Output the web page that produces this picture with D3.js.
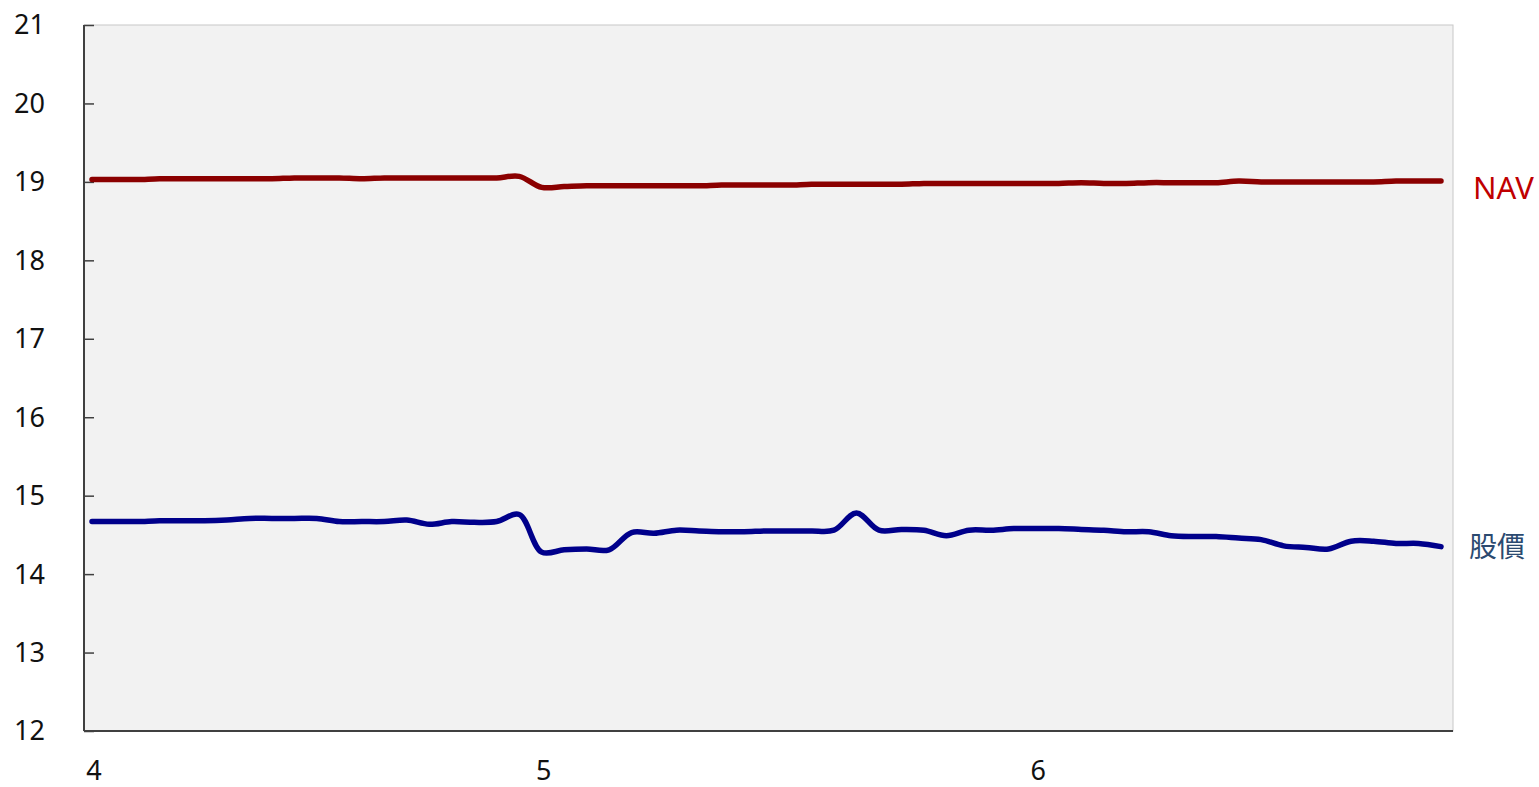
<!DOCTYPE html>
<html>
<head>
<meta charset="utf-8">
<script src="https://cdn.jsdelivr.net/npm/d3@7"></script>
<style>
  body { margin: 0; background: #fff; }
  svg { display: block; }
  .tick-label { font-family: 'Noto Sans', 'Open Sans', sans-serif; font-size: 27px; fill: #111; }
</style>
</head>
<body>
<div id="chart"></div>
<script>
// trading days, April - June; month labels at first trading day of each month
const monthLabels = ['4', '5', '6']
const monthStart = [0, 20, 42]
const yTicks = [12, 13, 14, 15, 16, 17, 18, 19, 20, 21]

const nav = [
  19.03, 19.03, 19.03, 19.04, 19.04, 19.04, 19.04, 19.04, 19.04, 19.05,
  19.05, 19.05, 19.04, 19.05, 19.05, 19.05, 19.05, 19.05, 19.05, 19.07,
  18.93, 18.94, 18.95, 18.95, 18.95, 18.95, 18.95, 18.95, 18.96, 18.96,
  18.96, 18.96, 18.97, 18.97, 18.97, 18.97, 18.97, 18.98, 18.98, 18.98,
  18.98, 18.98, 18.98, 18.98, 18.99, 18.98, 18.98, 18.99, 18.99, 18.99,
  18.99, 19.01, 19.00, 19.00, 19.00, 19.00, 19.00, 19.00, 19.01, 19.01,
  19.01
]

const price = [
  14.67, 14.67, 14.67, 14.68, 14.68, 14.68, 14.69, 14.71, 14.71, 14.71,
  14.71, 14.67, 14.67, 14.67, 14.69, 14.635, 14.67, 14.66, 14.67, 14.76,
  14.28, 14.31, 14.32, 14.31, 14.53, 14.52, 14.56, 14.55, 14.54, 14.54,
  14.55, 14.55, 14.55, 14.56, 14.78, 14.56, 14.57, 14.56, 14.49, 14.56,
  14.56, 14.58, 14.58, 14.58, 14.57, 14.56, 14.54, 14.54, 14.49, 14.48,
  14.48, 14.46, 14.44, 14.36, 14.34, 14.32, 14.42, 14.42, 14.39, 14.39,
  14.35
]

const series = [
  {name: 'NAV', values: nav, color: '#8b0000', labelColor: '#c00000', size: 31, dx: 20, dy: 7},
  {name: '股價', values: price, color: '#00008b', labelColor: '#2b4a70', size: 28, dx: 16, dy: 1}
]

const width = 1539
const height = 787
const margin = {top: 25, right: 86, bottom: 56, left: 84}
const plotW = width - margin.left - margin.right
const plotH = height - margin.top - margin.bottom

const x = d3.scaleLinear().domain([0, nav.length - 1]).range([8, plotW - 12])
const y = d3.scaleLinear().domain([12, 21]).range([plotH, 0])

const svg = d3.select('#chart')
  .append('svg')
  .attr('width', width)
  .attr('height', height)

const g = svg.append('g')
  .attr('transform', `translate(${margin.left}, ${margin.top})`)

// plot background + light frame
g.append('rect')
  .attr('width', plotW)
  .attr('height', plotH)
  .attr('fill', '#f2f2f2')
  .attr('stroke', '#c8c8c8')
  .attr('stroke-width', 1)

// y axis: ticks point inward
const yAxis = d3.axisRight(y).tickValues(yTicks).tickSize(10).tickFormat('')
g.append('g')
  .attr('class', 'y axis')
  .call(yAxis)
  .call(s => s.select('.domain').remove())
  .call(s => s.selectAll('.tick line').attr('stroke', '#404040').attr('stroke-width', 1.5))

g.append('line')
  .attr('x1', 0).attr('x2', 0)
  .attr('y1', 0).attr('y2', plotH)
  .attr('stroke', '#404040').attr('stroke-width', 2)

g.append('line')
  .attr('x1', 0).attr('x2', plotW)
  .attr('y1', plotH).attr('y2', plotH)
  .attr('stroke', '#404040').attr('stroke-width', 2)

svg.append('g')
  .selectAll('text')
  .data(yTicks)
  .enter()
  .append('text')
  .attr('class', 'tick-label')
  .attr('x', 45)
  .attr('y', d => margin.top + y(d))
  .attr('dy', '0.35em')
  .attr('text-anchor', 'end')
  .text(d => d)

svg.append('g')
  .selectAll('text')
  .data(monthLabels)
  .enter()
  .append('text')
  .attr('class', 'tick-label')
  .attr('x', (d, i) => margin.left + x(monthStart[i]) + 2)
  .attr('y', 780)
  .attr('text-anchor', 'middle')
  .text(d => d)

const line = d3.line()
  .x((d, i) => x(i))
  .y(d => y(d))
  .curve(d3.curveCatmullRom)

g.selectAll('.series')
  .data(series)
  .enter()
  .append('path')
  .attr('class', 'series')
  .attr('d', d => line(d.values))
  .attr('fill', 'none')
  .attr('stroke', d => d.color)
  .attr('stroke-width', 5.5)
  .attr('stroke-linecap', 'round')
  .attr('stroke-linejoin', 'round')

svg.append('g')
  .selectAll('text')
  .data(series)
  .enter()
  .append('text')
  .attr('x', d => margin.left + plotW + d.dx)
  .attr('y', d => margin.top + y(d.values[d.values.length - 1]) + d.dy)
  .attr('dy', '0.35em')
  .attr('font-family', "'Noto Sans', 'Noto Sans CJK TC', sans-serif")
  .attr('font-size', d => d.size)
  .attr('fill', d => d.labelColor)
  .text(d => d.name)
</script>
</body>
</html>
